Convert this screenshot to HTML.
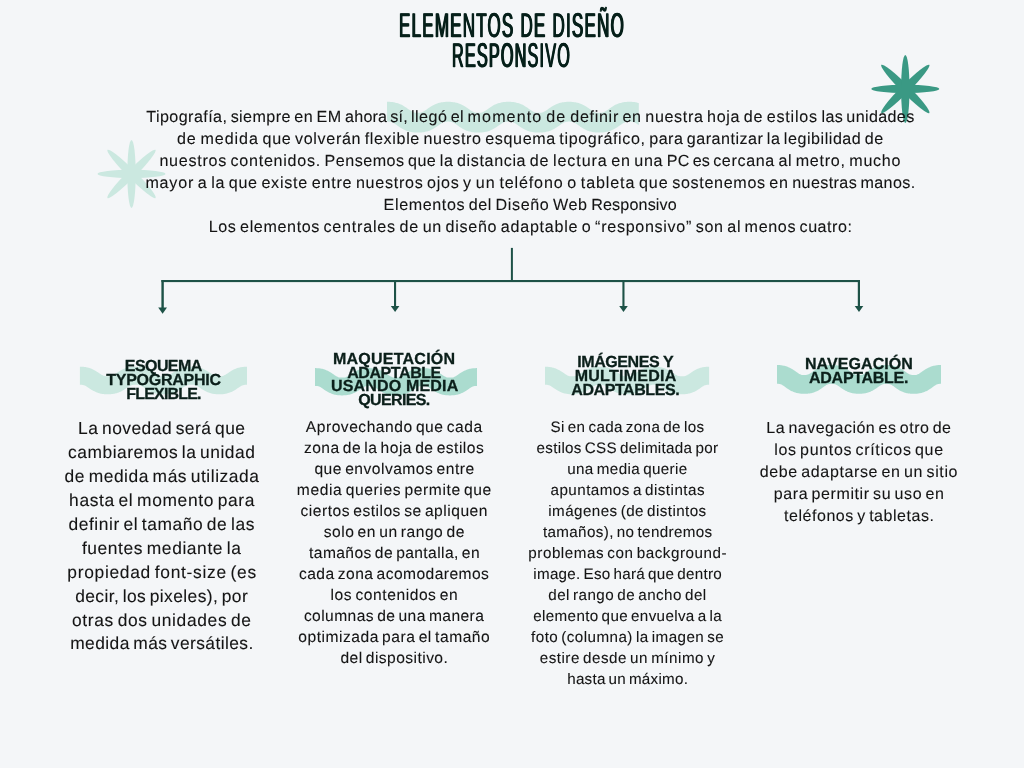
<!DOCTYPE html>
<html lang="es">
<head>
<meta charset="utf-8">
<title>Elementos de diseño responsivo</title>
<style>
html,body{margin:0;padding:0}
body{width:1024px;height:768px;overflow:hidden;position:relative;background:#f4f6f8;font-family:"Liberation Sans",sans-serif;color:#141414;text-rendering:geometricPrecision}
svg.art{position:absolute;left:0;top:0}
header,main{will-change:transform}
h1,h2,p{margin:0;font-weight:400}
span{position:absolute;white-space:nowrap;line-height:1}
.pre span{white-space:pre}
.b{color:#141414;-webkit-text-stroke:0.1px #141414}
.h{color:#0b1f1a;font-weight:700;-webkit-text-stroke:0.3px #0b1f1a}
h1{color:#06201a;font-size:34.3px}
h1 span{font-weight:400;-webkit-text-stroke:0.4px currentColor;letter-spacing:2.5px;text-shadow:1.2px 0 0 currentColor,-1.2px 0 0 currentColor;transform-origin:0 0}
</style>
</head>
<body>
<svg class="art" width="1024" height="768" viewBox="0 0 1024 768">
<clipPath id="w1"><rect x="387" y="99.8" width="251.79999999999995" height="34.8"/></clipPath><path clip-path="url(#w1)" fill="none" stroke="#cbe8e0" stroke-width="19.8" stroke-linejoin="round" d="M371.0,118.18 L372.0,117.47 L373.0,116.75 L374.0,116.05 L375.0,115.37 L376.0,114.73 L377.0,114.15 L378.0,113.63 L379.0,113.18 L380.0,112.79 L381.0,112.48 L382.0,112.23 L383.0,112.04 L384.0,111.89 L385.0,111.79 L386.0,111.73 L387.0,111.70 L388.0,111.70 L389.0,111.73 L390.0,111.79 L391.0,111.89 L392.0,112.04 L393.0,112.23 L394.0,112.48 L395.0,112.79 L396.0,113.18 L397.0,113.63 L398.0,114.15 L399.0,114.73 L400.0,115.37 L401.0,116.05 L402.0,116.75 L403.0,117.47 L404.0,118.18 L405.0,118.87 L406.0,119.51 L407.0,120.11 L408.0,120.65 L409.0,121.12 L410.0,121.52 L411.0,121.85 L412.0,122.12 L413.0,122.32 L414.0,122.48 L415.0,122.58 L416.0,122.65 L417.0,122.69 L418.0,122.70 L419.0,122.68 L420.0,122.62 L421.0,122.53 L422.0,122.40 L423.0,122.23 L424.0,121.99 L425.0,121.69 L426.0,121.33 L427.0,120.89 L428.0,120.39 L429.0,119.82 L430.0,119.20 L431.0,118.53 L432.0,117.83 L433.0,117.11 L434.0,116.40 L435.0,115.70 L436.0,115.04 L437.0,114.43 L438.0,113.88 L439.0,113.39 L440.0,112.98 L441.0,112.63 L442.0,112.35 L443.0,112.12 L444.0,111.96 L445.0,111.84 L446.0,111.76 L447.0,111.71 L448.0,111.70 L449.0,111.71 L450.0,111.76 L451.0,111.84 L452.0,111.96 L453.0,112.12 L454.0,112.35 L455.0,112.63 L456.0,112.98 L457.0,113.39 L458.0,113.88 L459.0,114.43 L460.0,115.04 L461.0,115.70 L462.0,116.40 L463.0,117.11 L464.0,117.83 L465.0,118.53 L466.0,119.20 L467.0,119.82 L468.0,120.39 L469.0,120.89 L470.0,121.33 L471.0,121.69 L472.0,121.99 L473.0,122.23 L474.0,122.40 L475.0,122.53 L476.0,122.62 L477.0,122.68 L478.0,122.70 L479.0,122.69 L480.0,122.65 L481.0,122.58 L482.0,122.48 L483.0,122.32 L484.0,122.12 L485.0,121.85 L486.0,121.52 L487.0,121.12 L488.0,120.65 L489.0,120.11 L490.0,119.51 L491.0,118.87 L492.0,118.18 L493.0,117.47 L494.0,116.75 L495.0,116.05 L496.0,115.37 L497.0,114.73 L498.0,114.15 L499.0,113.63 L500.0,113.18 L501.0,112.79 L502.0,112.48 L503.0,112.23 L504.0,112.04 L505.0,111.89 L506.0,111.79 L507.0,111.73 L508.0,111.70 L509.0,111.70 L510.0,111.73 L511.0,111.79 L512.0,111.89 L513.0,112.04 L514.0,112.23 L515.0,112.48 L516.0,112.79 L517.0,113.18 L518.0,113.63 L519.0,114.15 L520.0,114.73 L521.0,115.37 L522.0,116.05 L523.0,116.75 L524.0,117.47 L525.0,118.18 L526.0,118.87 L527.0,119.51 L528.0,120.11 L529.0,120.65 L530.0,121.12 L531.0,121.52 L532.0,121.85 L533.0,122.12 L534.0,122.32 L535.0,122.48 L536.0,122.58 L537.0,122.65 L538.0,122.69 L539.0,122.70 L540.0,122.68 L541.0,122.62 L542.0,122.53 L543.0,122.40 L544.0,122.23 L545.0,121.99 L546.0,121.69 L547.0,121.33 L548.0,120.89 L549.0,120.39 L550.0,119.82 L551.0,119.20 L552.0,118.53 L553.0,117.83 L554.0,117.11 L555.0,116.40 L556.0,115.70 L557.0,115.04 L558.0,114.43 L559.0,113.88 L560.0,113.39 L561.0,112.98 L562.0,112.63 L563.0,112.35 L564.0,112.12 L565.0,111.96 L566.0,111.84 L567.0,111.76 L568.0,111.71 L569.0,111.70 L570.0,111.71 L571.0,111.76 L572.0,111.84 L573.0,111.96 L574.0,112.12 L575.0,112.35 L576.0,112.63 L577.0,112.98 L578.0,113.39 L579.0,113.88 L580.0,114.43 L581.0,115.04 L582.0,115.70 L583.0,116.40 L584.0,117.11 L585.0,117.83 L586.0,118.53 L587.0,119.20 L588.0,119.82 L589.0,120.39 L590.0,120.89 L591.0,121.33 L592.0,121.69 L593.0,121.99 L594.0,122.23 L595.0,122.40 L596.0,122.53 L597.0,122.62 L598.0,122.68 L599.0,122.70 L600.0,122.69 L601.0,122.65 L602.0,122.58 L603.0,122.48 L604.0,122.32 L605.0,122.12 L606.0,121.85 L607.0,121.52 L608.0,121.12 L609.0,120.65 L610.0,120.11 L611.0,119.51 L612.0,118.87 L613.0,118.18 L614.0,117.47 L615.0,116.75 L616.0,116.05 L617.0,115.37 L618.0,114.73 L619.0,114.15 L620.0,113.63 L621.0,113.18 L622.0,112.79 L623.0,112.48 L624.0,112.23 L625.0,112.04 L626.0,111.89 L627.0,111.79 L628.0,111.73 L629.0,111.70 L630.0,111.70 L631.0,111.73 L632.0,111.79 L633.0,111.89 L634.0,112.04 L635.0,112.23 L636.0,112.48 L637.0,112.79 L638.0,113.18 L639.0,113.63 L640.0,114.15 L641.0,114.73 L642.0,115.37 L643.0,116.05 L644.0,116.75 L645.0,117.47 L646.0,118.18 L647.0,118.87 L648.0,119.51 L649.0,120.11 L650.0,120.65 L651.0,121.12 L652.0,121.52 L653.0,121.85 L654.0,122.12"/>
<g fill="#cbe8e0" transform="translate(131.5,173.9)"><ellipse rx="34" ry="4.2" transform="rotate(0)"/><ellipse rx="34" ry="4.2" transform="rotate(45)"/><ellipse rx="34" ry="4.2" transform="rotate(90)"/><ellipse rx="34" ry="4.2" transform="rotate(135)"/></g>
<g fill="#3a9984" transform="translate(905.3,88.9)"><ellipse rx="34" ry="4.2" transform="rotate(0)"/><ellipse rx="34" ry="4.2" transform="rotate(45)"/><ellipse rx="34" ry="4.2" transform="rotate(90)"/><ellipse rx="34" ry="4.2" transform="rotate(135)"/></g>
<clipPath id="w2"><rect x="79.9" y="364.7" width="167.1" height="31.600000000000023"/></clipPath><path clip-path="url(#w2)" fill="none" stroke="#cbe8e0" stroke-width="18.000000000000014" stroke-linejoin="round" d="M63.9,381.88 L64.9,381.23 L65.9,380.55 L66.9,379.87 L67.9,379.21 L68.9,378.59 L69.9,378.01 L70.9,377.50 L71.9,377.06 L72.9,376.69 L73.9,376.38 L74.9,376.15 L75.9,375.97 L76.9,375.84 L77.9,375.76 L78.9,375.72 L79.9,375.70 L80.9,375.72 L81.9,375.76 L82.9,375.84 L83.9,375.97 L84.9,376.15 L85.9,376.38 L86.9,376.69 L87.9,377.06 L88.9,377.50 L89.9,378.01 L90.9,378.59 L91.9,379.21 L92.9,379.87 L93.9,380.55 L94.9,381.23 L95.9,381.88 L96.9,382.50 L97.9,383.07 L98.9,383.57 L99.9,384.00 L100.9,384.36 L101.9,384.66 L102.9,384.88 L103.9,385.05 L104.9,385.17 L105.9,385.25 L106.9,385.29 L107.9,385.30 L108.9,385.28 L109.9,385.23 L110.9,385.14 L111.9,385.01 L112.9,384.82 L113.9,384.58 L114.9,384.26 L115.9,383.88 L116.9,383.43 L117.9,382.90 L118.9,382.32 L119.9,381.69 L120.9,381.03 L121.9,380.35 L122.9,379.67 L123.9,379.02 L124.9,378.41 L125.9,377.85 L126.9,377.36 L127.9,376.94 L128.9,376.59 L129.9,376.31 L130.9,376.09 L131.9,375.93 L132.9,375.82 L133.9,375.74 L134.9,375.71 L135.9,375.70 L136.9,375.73 L137.9,375.78 L138.9,375.88 L139.9,376.02 L140.9,376.21 L141.9,376.47 L142.9,376.79 L143.9,377.18 L144.9,377.65 L145.9,378.18 L146.9,378.77 L147.9,379.41 L148.9,380.08 L149.9,380.75 L150.9,381.43 L151.9,382.07 L152.9,382.68 L153.9,383.22 L154.9,383.71 L155.9,384.12 L156.9,384.46 L157.9,384.73 L158.9,384.94 L159.9,385.09 L160.9,385.20 L161.9,385.26 L162.9,385.30 L163.9,385.30 L164.9,385.27 L165.9,385.21 L166.9,385.10 L167.9,384.96 L168.9,384.75 L169.9,384.49 L170.9,384.16 L171.9,383.75 L172.9,383.28 L173.9,382.73 L174.9,382.13 L175.9,381.49 L176.9,380.82 L177.9,380.14 L178.9,379.47 L179.9,378.83 L180.9,378.24 L181.9,377.70 L182.9,377.23 L183.9,376.83 L184.9,376.50 L185.9,376.23 L186.9,376.03 L187.9,375.89 L188.9,375.79 L189.9,375.73 L190.9,375.70 L191.9,375.71 L192.9,375.74 L193.9,375.81 L194.9,375.91 L195.9,376.07 L196.9,376.28 L197.9,376.56 L198.9,376.90 L199.9,377.32 L200.9,377.80 L201.9,378.35 L202.9,378.96 L203.9,379.61 L204.9,380.28 L205.9,380.96 L206.9,381.62 L207.9,382.26 L208.9,382.85 L209.9,383.38 L210.9,383.84 L211.9,384.23 L212.9,384.55 L213.9,384.80 L214.9,384.99 L215.9,385.13 L216.9,385.22 L217.9,385.28 L218.9,385.30 L219.9,385.29 L220.9,385.25 L221.9,385.18 L222.9,385.07 L223.9,384.90 L224.9,384.68 L225.9,384.40 L226.9,384.04 L227.9,383.62 L228.9,383.12 L229.9,382.56 L230.9,381.95 L231.9,381.29 L232.9,380.62 L233.9,379.94 L234.9,379.28 L235.9,378.65 L236.9,378.07 L237.9,377.55 L238.9,377.10 L239.9,376.72 L240.9,376.41 L241.9,376.17 L242.9,375.99 L243.9,375.86 L244.9,375.77 L245.9,375.72 L246.9,375.70 L247.9,375.71 L248.9,375.76 L249.9,375.83 L250.9,375.96 L251.9,376.13 L252.9,376.36 L253.9,376.65 L254.9,377.02 L255.9,377.45 L256.9,377.96 L257.9,378.53 L258.9,379.15 L259.9,379.81 L260.9,380.48 L261.9,381.16 L262.9,381.82"/>
<clipPath id="w3"><rect x="315" y="366.1" width="162" height="31.299999999999955"/></clipPath><path clip-path="url(#w3)" fill="none" stroke="#abdccf" stroke-width="17.804347826086925" stroke-linejoin="round" d="M299.0,383.43 L300.0,382.78 L301.0,382.10 L302.0,381.40 L303.0,380.72 L304.0,380.07 L305.0,379.46 L306.0,378.92 L307.0,378.45 L308.0,378.05 L309.0,377.73 L310.0,377.48 L311.0,377.29 L312.0,377.16 L313.0,377.07 L314.0,377.02 L315.0,377.00 L316.0,377.02 L317.0,377.07 L318.0,377.16 L319.0,377.29 L320.0,377.48 L321.0,377.73 L322.0,378.05 L323.0,378.45 L324.0,378.92 L325.0,379.46 L326.0,380.07 L327.0,380.72 L328.0,381.40 L329.0,382.10 L330.0,382.78 L331.0,383.43 L332.0,384.04 L333.0,384.58 L334.0,385.05 L335.0,385.45 L336.0,385.77 L337.0,386.02 L338.0,386.21 L339.0,386.34 L340.0,386.43 L341.0,386.48 L342.0,386.50 L343.0,386.48 L344.0,386.43 L345.0,386.34 L346.0,386.21 L347.0,386.02 L348.0,385.77 L349.0,385.45 L350.0,385.05 L351.0,384.58 L352.0,384.04 L353.0,383.43 L354.0,382.78 L355.0,382.10 L356.0,381.40 L357.0,380.72 L358.0,380.07 L359.0,379.46 L360.0,378.92 L361.0,378.45 L362.0,378.05 L363.0,377.73 L364.0,377.48 L365.0,377.29 L366.0,377.16 L367.0,377.07 L368.0,377.02 L369.0,377.00 L370.0,377.02 L371.0,377.07 L372.0,377.16 L373.0,377.29 L374.0,377.48 L375.0,377.73 L376.0,378.05 L377.0,378.45 L378.0,378.92 L379.0,379.46 L380.0,380.07 L381.0,380.72 L382.0,381.40 L383.0,382.10 L384.0,382.78 L385.0,383.43 L386.0,384.04 L387.0,384.58 L388.0,385.05 L389.0,385.45 L390.0,385.77 L391.0,386.02 L392.0,386.21 L393.0,386.34 L394.0,386.43 L395.0,386.48 L396.0,386.50 L397.0,386.48 L398.0,386.43 L399.0,386.34 L400.0,386.21 L401.0,386.02 L402.0,385.77 L403.0,385.45 L404.0,385.05 L405.0,384.58 L406.0,384.04 L407.0,383.43 L408.0,382.78 L409.0,382.10 L410.0,381.40 L411.0,380.72 L412.0,380.07 L413.0,379.46 L414.0,378.92 L415.0,378.45 L416.0,378.05 L417.0,377.73 L418.0,377.48 L419.0,377.29 L420.0,377.16 L421.0,377.07 L422.0,377.02 L423.0,377.00 L424.0,377.02 L425.0,377.07 L426.0,377.16 L427.0,377.29 L428.0,377.48 L429.0,377.73 L430.0,378.05 L431.0,378.45 L432.0,378.92 L433.0,379.46 L434.0,380.07 L435.0,380.72 L436.0,381.40 L437.0,382.10 L438.0,382.78 L439.0,383.43 L440.0,384.04 L441.0,384.58 L442.0,385.05 L443.0,385.45 L444.0,385.77 L445.0,386.02 L446.0,386.21 L447.0,386.34 L448.0,386.43 L449.0,386.48 L450.0,386.50 L451.0,386.48 L452.0,386.43 L453.0,386.34 L454.0,386.21 L455.0,386.02 L456.0,385.77 L457.0,385.45 L458.0,385.05 L459.0,384.58 L460.0,384.04 L461.0,383.43 L462.0,382.78 L463.0,382.10 L464.0,381.40 L465.0,380.72 L466.0,380.07 L467.0,379.46 L468.0,378.92 L469.0,378.45 L470.0,378.05 L471.0,377.73 L472.0,377.48 L473.0,377.29 L474.0,377.16 L475.0,377.07 L476.0,377.02 L477.0,377.00 L478.0,377.02 L479.0,377.07 L480.0,377.16 L481.0,377.29 L482.0,377.48 L483.0,377.73 L484.0,378.05 L485.0,378.45 L486.0,378.92 L487.0,379.46 L488.0,380.07 L489.0,380.72 L490.0,381.40 L491.0,382.10 L492.0,382.78 L493.0,383.43"/>
<clipPath id="w4"><rect x="545" y="364.7" width="164.10000000000002" height="31.600000000000023"/></clipPath><path clip-path="url(#w4)" fill="none" stroke="#cbe8e0" stroke-width="18.000000000000014" stroke-linejoin="round" d="M529.0,382.07 L530.0,381.41 L531.0,380.72 L532.0,380.03 L533.0,379.36 L534.0,378.71 L535.0,378.12 L536.0,377.58 L537.0,377.12 L538.0,376.73 L539.0,376.41 L540.0,376.17 L541.0,375.98 L542.0,375.85 L543.0,375.76 L544.0,375.72 L545.0,375.70 L546.0,375.72 L547.0,375.76 L548.0,375.85 L549.0,375.98 L550.0,376.17 L551.0,376.41 L552.0,376.73 L553.0,377.12 L554.0,377.58 L555.0,378.12 L556.0,378.71 L557.0,379.36 L558.0,380.03 L559.0,380.72 L560.0,381.41 L561.0,382.07 L562.0,382.68 L563.0,383.24 L564.0,383.73 L565.0,384.14 L566.0,384.48 L567.0,384.75 L568.0,384.96 L569.0,385.11 L570.0,385.21 L571.0,385.27 L572.0,385.30 L573.0,385.29 L574.0,385.26 L575.0,385.18 L576.0,385.07 L577.0,384.90 L578.0,384.68 L579.0,384.39 L580.0,384.03 L581.0,383.59 L582.0,383.08 L583.0,382.50 L584.0,381.87 L585.0,381.21 L586.0,380.52 L587.0,379.83 L588.0,379.16 L589.0,378.53 L590.0,377.95 L591.0,377.43 L592.0,376.99 L593.0,376.63 L594.0,376.33 L595.0,376.10 L596.0,375.94 L597.0,375.82 L598.0,375.75 L599.0,375.71 L600.0,375.70 L601.0,375.73 L602.0,375.79 L603.0,375.88 L604.0,376.03 L605.0,376.23 L606.0,376.50 L607.0,376.84 L608.0,377.25 L609.0,377.73 L610.0,378.29 L611.0,378.90 L612.0,379.56 L613.0,380.24 L614.0,380.93 L615.0,381.61 L616.0,382.26 L617.0,382.86 L618.0,383.39 L619.0,383.86 L620.0,384.25 L621.0,384.57 L622.0,384.82 L623.0,385.01 L624.0,385.14 L625.0,385.23 L626.0,385.28 L627.0,385.30 L628.0,385.29 L629.0,385.24 L630.0,385.15 L631.0,385.03 L632.0,384.84 L633.0,384.60 L634.0,384.29 L635.0,383.90 L636.0,383.44 L637.0,382.91 L638.0,382.32 L639.0,381.68 L640.0,381.00 L641.0,380.31 L642.0,379.62 L643.0,378.96 L644.0,378.35 L645.0,377.79 L646.0,377.29 L647.0,376.88 L648.0,376.53 L649.0,376.26 L650.0,376.05 L651.0,375.90 L652.0,375.79 L653.0,375.73 L654.0,375.70 L655.0,375.71 L656.0,375.74 L657.0,375.81 L658.0,375.92 L659.0,376.09 L660.0,376.31 L661.0,376.59 L662.0,376.95 L663.0,377.39 L664.0,377.89 L665.0,378.47 L666.0,379.09 L667.0,379.76 L668.0,380.45 L669.0,381.14 L670.0,381.81 L671.0,382.44 L672.0,383.02 L673.0,383.54 L674.0,383.99 L675.0,384.36 L676.0,384.65 L677.0,384.89 L678.0,385.06 L679.0,385.17 L680.0,385.25 L681.0,385.29 L682.0,385.30 L683.0,385.28 L684.0,385.22 L685.0,385.12 L686.0,384.98 L687.0,384.78 L688.0,384.51 L689.0,384.18 L690.0,383.77 L691.0,383.29 L692.0,382.74 L693.0,382.13 L694.0,381.48 L695.0,380.79 L696.0,380.10 L697.0,379.42 L698.0,378.77 L699.0,378.17 L700.0,377.63 L701.0,377.16 L702.0,376.76 L703.0,376.44 L704.0,376.19 L705.0,376.00 L706.0,375.86 L707.0,375.77 L708.0,375.72 L709.0,375.70 L710.0,375.71 L711.0,375.76 L712.0,375.84 L713.0,375.97 L714.0,376.15 L715.0,376.39 L716.0,376.69 L717.0,377.08 L718.0,377.53 L719.0,378.06 L720.0,378.65 L721.0,379.29 L722.0,379.97 L723.0,380.66 L724.0,381.34 L725.0,382.00"/>
<clipPath id="w5"><rect x="777" y="363.0" width="164" height="32.80000000000001"/></clipPath><path clip-path="url(#w5)" fill="none" stroke="#abdccf" stroke-width="18.78260869565218" stroke-linejoin="round" d="M761.0,381.04 L762.0,380.36 L763.0,379.64 L764.0,378.92 L765.0,378.21 L766.0,377.54 L767.0,376.92 L768.0,376.36 L769.0,375.87 L770.0,375.47 L771.0,375.14 L772.0,374.88 L773.0,374.69 L774.0,374.55 L775.0,374.46 L776.0,374.41 L777.0,374.39 L778.0,374.41 L779.0,374.46 L780.0,374.55 L781.0,374.69 L782.0,374.88 L783.0,375.14 L784.0,375.47 L785.0,375.87 L786.0,376.36 L787.0,376.92 L788.0,377.54 L789.0,378.21 L790.0,378.92 L791.0,379.64 L792.0,380.36 L793.0,381.04 L794.0,381.68 L795.0,382.26 L796.0,382.77 L797.0,383.21 L798.0,383.56 L799.0,383.84 L800.0,384.06 L801.0,384.21 L802.0,384.32 L803.0,384.38 L804.0,384.41 L805.0,384.40 L806.0,384.36 L807.0,384.29 L808.0,384.17 L809.0,383.99 L810.0,383.76 L811.0,383.45 L812.0,383.07 L813.0,382.61 L814.0,382.08 L815.0,381.48 L816.0,380.82 L817.0,380.12 L818.0,379.40 L819.0,378.68 L820.0,377.98 L821.0,377.32 L822.0,376.72 L823.0,376.19 L824.0,375.73 L825.0,375.35 L826.0,375.04 L827.0,374.81 L828.0,374.63 L829.0,374.51 L830.0,374.44 L831.0,374.40 L832.0,374.39 L833.0,374.42 L834.0,374.48 L835.0,374.59 L836.0,374.74 L837.0,374.96 L838.0,375.24 L839.0,375.59 L840.0,376.03 L841.0,376.54 L842.0,377.12 L843.0,377.76 L844.0,378.44 L845.0,379.16 L846.0,379.88 L847.0,380.59 L848.0,381.26 L849.0,381.88 L850.0,382.44 L851.0,382.93 L852.0,383.33 L853.0,383.66 L854.0,383.92 L855.0,384.11 L856.0,384.25 L857.0,384.34 L858.0,384.39 L859.0,384.41 L860.0,384.39 L861.0,384.34 L862.0,384.25 L863.0,384.11 L864.0,383.92 L865.0,383.66 L866.0,383.33 L867.0,382.93 L868.0,382.44 L869.0,381.88 L870.0,381.26 L871.0,380.59 L872.0,379.88 L873.0,379.16 L874.0,378.44 L875.0,377.76 L876.0,377.12 L877.0,376.54 L878.0,376.03 L879.0,375.59 L880.0,375.24 L881.0,374.96 L882.0,374.74 L883.0,374.59 L884.0,374.48 L885.0,374.42 L886.0,374.39 L887.0,374.40 L888.0,374.44 L889.0,374.51 L890.0,374.63 L891.0,374.81 L892.0,375.04 L893.0,375.35 L894.0,375.73 L895.0,376.19 L896.0,376.72 L897.0,377.32 L898.0,377.98 L899.0,378.68 L900.0,379.40 L901.0,380.12 L902.0,380.82 L903.0,381.48 L904.0,382.08 L905.0,382.61 L906.0,383.07 L907.0,383.45 L908.0,383.76 L909.0,383.99 L910.0,384.17 L911.0,384.29 L912.0,384.36 L913.0,384.40 L914.0,384.41 L915.0,384.38 L916.0,384.32 L917.0,384.21 L918.0,384.06 L919.0,383.84 L920.0,383.56 L921.0,383.21 L922.0,382.77 L923.0,382.26 L924.0,381.68 L925.0,381.04 L926.0,380.36 L927.0,379.64 L928.0,378.92 L929.0,378.21 L930.0,377.54 L931.0,376.92 L932.0,376.36 L933.0,375.87 L934.0,375.47 L935.0,375.14 L936.0,374.88 L937.0,374.69 L938.0,374.55 L939.0,374.46 L940.0,374.41 L941.0,374.39 L942.0,374.41 L943.0,374.46 L944.0,374.55 L945.0,374.69 L946.0,374.88 L947.0,375.14 L948.0,375.47 L949.0,375.87 L950.0,376.36 L951.0,376.92 L952.0,377.54 L953.0,378.21 L954.0,378.92 L955.0,379.64 L956.0,380.36 L957.0,381.04"/>
<g fill="#1d5247"><rect x="510.9" y="247.9" width="2" height="33"/><rect x="161.4" y="280" width="698.6" height="2.1"/><rect x="161.4" y="280" width="2.4" height="29"/><rect x="394" y="280" width="2.1" height="27.5"/><rect x="622.4" y="280" width="2.1" height="27.5"/><rect x="857.8" y="280" width="2.2" height="27.5"/><path d="M158.2,307.6h8.8l-4.4,6.1z"/><path d="M390.8,306.1h8.6l-4.3,5.9z"/><path d="M619.2,306.1h8.6l-4.3,5.9z"/><path d="M854.7,306.1h8.6l-4.3,5.9z"/></g>
</svg>
<header>
  <h1>
    <span style="left:399.0px;top:9.0px;transform:scaleX(0.4949)">ELEMENTOS DE DISEÑO</span>
    <span style="left:452.0px;top:39.0px;transform:scaleX(0.4726)">RESPONSIVO</span>
  </h1>
  <p class="b pre" style="font-size:16.1px;word-spacing:-0.1em">
    <span style="left:146.3px;top:109px;letter-spacing:0.429px">Tipografía, siempre </span>
    <span style="left:294.2px;top:109px;letter-spacing:0.520px">en EM </span>
    <span style="left:345.1px;top:109px;letter-spacing:0.196px">ahora sí, </span>
    <span style="left:410.9px;top:109px;letter-spacing:0.487px">llegó el </span>
    <span style="left:467.6px;top:109px;letter-spacing:1.089px">momento de </span>
    <span style="left:570.3px;top:109px;letter-spacing:0.685px">definir en </span>
    <span style="left:645.3px;top:109px;letter-spacing:0.658px">nuestra hoja </span>
    <span style="left:743.7px;top:109px;letter-spacing:0.777px">de estilos </span>
    <span style="left:821.5px;top:109px;letter-spacing:0.358px">las unidades</span>
    <span style="left:177.0px;top:131px;letter-spacing:0.918px">de medida </span>
    <span style="left:262.6px;top:131px;letter-spacing:0.668px">que volverán </span>
    <span style="left:364.7px;top:131px;letter-spacing:0.646px">flexible nuestro </span>
    <span style="left:485.2px;top:131px;letter-spacing:0.635px">esquema tipográfico, </span>
    <span style="left:649.2px;top:131px;letter-spacing:0.505px">para garantizar </span>
    <span style="left:766.8px;top:131px;letter-spacing:0.542px">la legibilidad de</span>
    <span style="left:159.4px;top:153px;letter-spacing:0.730px">nuestros contenidos. </span>
    <span style="left:324.5px;top:153px;letter-spacing:0.506px">Pensemos que </span>
    <span style="left:439.7px;top:153px;letter-spacing:0.632px">la distancia </span>
    <span style="left:529.7px;top:153px;letter-spacing:0.879px">de lectura </span>
    <span style="left:611.3px;top:153px;letter-spacing:0.717px">en una </span>
    <span style="left:666.8px;top:153px;letter-spacing:0.218px">PC es </span>
    <span style="left:713.2px;top:153px;letter-spacing:0.635px">cercana al </span>
    <span style="left:795.7px;top:153px;letter-spacing:0.729px">metro, mucho</span>
    <span style="left:145.4px;top:175px;letter-spacing:0.801px">mayor a </span>
    <span style="left:211.2px;top:175px;letter-spacing:0.727px">la que </span>
    <span style="left:261.4px;top:175px;letter-spacing:0.773px">existe entre </span>
    <span style="left:355.9px;top:175px;letter-spacing:0.730px">nuestros ojos </span>
    <span style="left:463.1px;top:175px;letter-spacing:0.923px">y un </span>
    <span style="left:499.4px;top:175px;letter-spacing:0.859px">teléfono o </span>
    <span style="left:580.8px;top:175px;letter-spacing:0.875px">tableta que </span>
    <span style="left:672.2px;top:175px;letter-spacing:0.685px">sostenemos en </span>
    <span style="left:792.2px;top:175px;letter-spacing:0.402px">nuestras manos.</span>
    <span style="left:383.6px;top:197px;letter-spacing:0.618px">Elementos del </span>
    <span style="left:495.5px;top:197px;letter-spacing:0.643px">Diseño Web </span>
    <span style="left:591.2px;top:197px;letter-spacing:0.167px">Responsivo</span>
    <span style="left:208.7px;top:219px;letter-spacing:0.637px">Los elementos </span>
    <span style="left:323.5px;top:219px;letter-spacing:0.790px">centrales de </span>
    <span style="left:422.7px;top:219px;letter-spacing:0.704px">un diseño </span>
    <span style="left:500.8px;top:219px;letter-spacing:0.743px">adaptable o </span>
    <span style="left:595.1px;top:219px;letter-spacing:0.704px">“responsivo” son </span>
    <span style="left:727.3px;top:219px;letter-spacing:0.638px">al menos </span>
    <span style="left:799.6px;top:219px;letter-spacing:0.516px">cuatro:</span>
  </p>
</header>
<main>
  <section>
  <h2 class="h" style="font-size:16.0px;word-spacing:0em">
    <span style="left:124.8px;top:359px;letter-spacing:-0.568px">ESQUEMA</span>
    <span style="left:106.3px;top:373px;letter-spacing:-0.264px">TYPOGRAPHIC</span>
    <span style="left:126.3px;top:387px;letter-spacing:-0.823px">FLEXIBLE.</span>
  </h2>
  <p class="b" style="font-size:17.4px;word-spacing:-0.1em">
    <span style="left:78.1px;top:420px;letter-spacing:0.483px">La novedad será que</span>
    <span style="left:68.0px;top:444px;letter-spacing:0.528px">cambiaremos la unidad</span>
    <span style="left:64.6px;top:468px;letter-spacing:0.544px">de medida más utilizada</span>
    <span style="left:69.1px;top:492px;letter-spacing:0.632px">hasta el momento para</span>
    <span style="left:68.4px;top:516px;letter-spacing:0.572px">definir el tamaño de las</span>
    <span style="left:81.9px;top:540px;letter-spacing:0.594px">fuentes mediante la</span>
    <span style="left:67.3px;top:564px;letter-spacing:0.703px">propiedad font-size (es</span>
    <span style="left:75.2px;top:588px;letter-spacing:0.414px">decir, los pixeles), por</span>
    <span style="left:72.0px;top:612px;letter-spacing:0.654px">otras dos unidades de</span>
    <span style="left:70.2px;top:635px;letter-spacing:0.416px">medida más versátiles.</span>
  </p>
  </section>
  <section>
  <h2 class="h" style="font-size:16.0px;word-spacing:0em">
    <span style="left:332.9px;top:352px;letter-spacing:0.250px">MAQUETACIÓN</span>
    <span style="left:347.2px;top:366px;letter-spacing:-0.423px">ADAPTABLE</span>
    <span style="left:331.0px;top:379px;letter-spacing:0.169px">USANDO MEDIA</span>
    <span style="left:358.2px;top:393px;letter-spacing:-0.624px">QUERIES.</span>
  </h2>
  <p class="b" style="font-size:15.6px;word-spacing:-0.1em">
    <span style="left:305.8px;top:420px;letter-spacing:0.522px">Aprovechando que cada</span>
    <span style="left:303.9px;top:441px;letter-spacing:0.464px">zona de la hoja de estilos</span>
    <span style="left:314.4px;top:462px;letter-spacing:0.494px">que envolvamos entre</span>
    <span style="left:296.8px;top:483px;letter-spacing:0.606px">media queries permite que</span>
    <span style="left:300.5px;top:504px;letter-spacing:0.501px">ciertos estilos se apliquen</span>
    <span style="left:323.7px;top:525px;letter-spacing:0.504px">solo en un rango de</span>
    <span style="left:309.1px;top:546px;letter-spacing:0.397px">tamaños de pantalla, en</span>
    <span style="left:299.0px;top:567px;letter-spacing:0.440px">cada zona acomodaremos</span>
    <span style="left:330.6px;top:588px;letter-spacing:0.553px">los contenidos en</span>
    <span style="left:303.9px;top:609px;letter-spacing:0.414px">columnas de una manera</span>
    <span style="left:298.3px;top:630px;letter-spacing:0.512px">optimizada para el tamaño</span>
    <span style="left:340.5px;top:651px;letter-spacing:0.439px">del dispositivo.</span>
  </p>
  </section>
  <section>
  <h2 class="h" style="font-size:16.0px;word-spacing:0em">
    <span style="left:577.3px;top:355px;letter-spacing:-0.430px">IMÁGENES Y</span>
    <span style="left:574.7px;top:369px;letter-spacing:0.250px">MULTIMEDIA</span>
    <span style="left:571.3px;top:383px;letter-spacing:-0.429px">ADAPTABLES.</span>
  </h2>
  <p class="b" style="font-size:15.2px;word-spacing:-0.1em">
    <span style="left:550.5px;top:420px;letter-spacing:0.358px">Si en cada zona de los</span>
    <span style="left:536.5px;top:441px;letter-spacing:0.317px">estilos CSS delimitada por</span>
    <span style="left:567.2px;top:462px;letter-spacing:0.384px">una media querie</span>
    <span style="left:550.5px;top:483px;letter-spacing:0.464px">apuntamos a distintas</span>
    <span style="left:548.3px;top:504px;letter-spacing:0.427px">imágenes (de distintos</span>
    <span style="left:542.9px;top:525px;letter-spacing:0.367px">tamaños), no tendremos</span>
    <span style="left:528.3px;top:546px;letter-spacing:0.545px">problemas con background-</span>
    <span style="left:533.3px;top:567px;letter-spacing:0.282px">image. Eso hará que dentro</span>
    <span style="left:548.3px;top:588px;letter-spacing:0.450px">del rango de ancho del</span>
    <span style="left:533.3px;top:609px;letter-spacing:0.349px">elemento que envuelva a la</span>
    <span style="left:531.1px;top:630px;letter-spacing:0.437px">foto (columna) la imagen se</span>
    <span style="left:539.7px;top:651px;letter-spacing:0.500px">estire desde un mínimo y</span>
    <span style="left:567.2px;top:672px;letter-spacing:0.258px">hasta un máximo.</span>
  </p>
  </section>
  <section>
  <h2 class="h" style="font-size:16.0px;word-spacing:0em">
    <span style="left:805.0px;top:357px;letter-spacing:0.070px">NAVEGACIÓN</span>
    <span style="left:809.1px;top:371px;letter-spacing:-0.291px">ADAPTABLE.</span>
  </h2>
  <p class="b" style="font-size:16.0px;word-spacing:-0.1em">
    <span style="left:766.3px;top:421px;letter-spacing:0.496px">La navegación es otro de</span>
    <span style="left:774.2px;top:443px;letter-spacing:0.659px">los puntos críticos que</span>
    <span style="left:759.8px;top:465px;letter-spacing:0.620px">debe adaptarse en un sitio</span>
    <span style="left:773.8px;top:487px;letter-spacing:0.589px">para permitir su uso en</span>
    <span style="left:784.1px;top:509px;letter-spacing:0.534px">teléfonos y tabletas.</span>
  </p>
  </section>
</main>
</body>
</html>
